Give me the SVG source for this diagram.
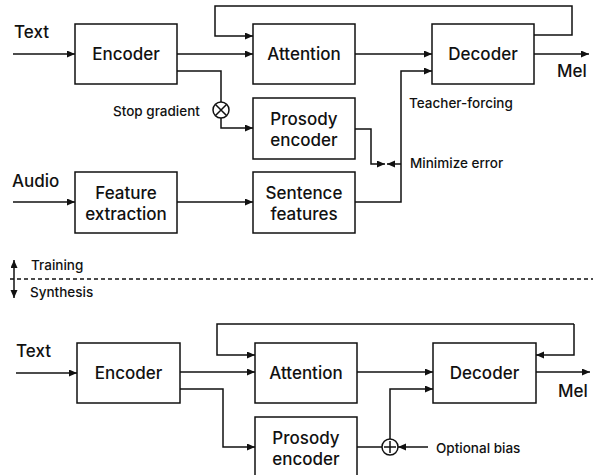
<svg xmlns="http://www.w3.org/2000/svg" width="593" height="475" viewBox="0 0 593 475">
  <style>
    .box { fill: #ffffff; stroke: #111111; stroke-width: 1.5; }
    .lbl { font-family: Inter, "Liberation Sans", Arial, sans-serif; font-weight: 500; font-size: 17px; fill: #111111; text-anchor: middle; }
    .io { font-family: Inter, "Liberation Sans", Arial, sans-serif; font-weight: 500; font-size: 17px; fill: #111111; }
    .sm { font-family: Inter, "Liberation Sans", Arial, sans-serif; font-weight: 500; font-size: 13.5px; fill: #111111; }
    .ln { fill: none; stroke: #111111; stroke-width: 1.5; }
    .arr { fill: none; stroke: #111111; stroke-width: 1.5; marker-end: url(#ah); }
    .dash { fill: none; stroke: #111111; stroke-width: 1.3; stroke-dasharray: 4 3; }
  </style>
  <defs>
    <marker id="ah" markerUnits="userSpaceOnUse" markerWidth="9" markerHeight="8" refX="8" refY="3.5" orient="auto">
      <path d="M0,0 L8,3.5 L0,7 z" fill="#111111"/>
    </marker>
  </defs>
  <rect width="593" height="475" fill="#ffffff"/>

  <g id="connectors">
    <!-- Training section -->
    <path class="arr" d="M13,54 H75"/>
    <path class="arr" d="M177,54 H253"/>
    <path class="ln" d="M177,71 H221 V102"/>
    <path class="arr" d="M221,118 V128 H253"/>
    <path class="arr" d="M534,35 H572 V6 H215 V36 H253"/>
    <path class="arr" d="M355,54 H432"/>
    <path class="arr" d="M534,54 H589"/>
    <path class="arr" d="M355,129 H371 V164 H385"/>
    <path class="arr" d="M355,202 H401 V71 H432"/>
    <path class="arr" d="M401,164 H387"/>
    <path class="arr" d="M13,202 H75"/>
    <path class="arr" d="M177,202 H253"/>
    <!-- divider -->
    <path class="arr" d="M14,279 V260"/>
    <path class="arr" d="M14,279 V298"/>
    <path class="dash" d="M10,279 H593"/>
    <!-- Synthesis section -->
    <path class="arr" d="M16,373 H77"/>
    <path class="arr" d="M180,372 H255"/>
    <path class="arr" d="M180,389 H223 V447 H255"/>
    <path class="arr" d="M574,324 H217 V355 H255"/>
    <path class="arr" d="M574,324 V355 H536"/>
    <path class="arr" d="M357,372 H433"/>
    <path class="arr" d="M536,372 H590"/>
    <path class="ln" d="M357,447 H382"/>
    <path class="arr" d="M390,439 V389 H433"/>
    <path class="arr" d="M428,447 H398"/>
  </g>

  <g id="stop-gradient">
    <circle cx="221" cy="110" r="8" fill="#ffffff" stroke="#111111" stroke-width="1.5"/>
    <path class="ln" d="M215.5,104.5 L226.5,115.5 M226.5,104.5 L215.5,115.5"/>
    <text class="sm" x="113" y="115.5">Stop gradient</text>
  </g>
  <g id="sum">
    <circle cx="390" cy="447" r="8" fill="#ffffff" stroke="#111111" stroke-width="1.5"/>
    <path class="ln" d="M384,447 H396 M390,441 V453"/>
  </g>

  <g id="labels">
    <text class="io" x="14" y="38">Text</text>
    <text class="io" x="12" y="187">Audio</text>
    <text class="io" x="557" y="77">Mel</text>
    <text class="sm" x="409" y="108">Teacher-forcing</text>
    <text class="sm" x="410" y="168">Minimize error</text>
    <text class="sm" x="31" y="270">Training</text>
    <text class="sm" x="30" y="297">Synthesis</text>
    <text class="io" x="16" y="357">Text</text>
    <text class="io" x="558" y="397">Mel</text>
    <text class="sm" x="436" y="453">Optional bias</text>
  </g>

  <g id="encoder-train">
    <rect class="box" x="75" y="24" width="102" height="60"/>
    <text class="lbl" x="126" y="60">Encoder</text>
  </g>
  <g id="attention-train">
    <rect class="box" x="253" y="24" width="102" height="60"/>
    <text class="lbl" x="304" y="60">Attention</text>
  </g>
  <g id="decoder-train">
    <rect class="box" x="432" y="24" width="102" height="60"/>
    <text class="lbl" x="483" y="60">Decoder</text>
  </g>
  <g id="prosody-encoder-train">
    <rect class="box" x="253" y="98" width="102" height="61"/>
    <text class="lbl" x="304" y="124.5">Prosody</text>
    <text class="lbl" x="304" y="145.5">encoder</text>
  </g>
  <g id="feature-extraction">
    <rect class="box" x="75" y="172" width="102" height="61"/>
    <text class="lbl" x="126" y="198.5">Feature</text>
    <text class="lbl" x="126" y="219.5">extraction</text>
  </g>
  <g id="sentence-features">
    <rect class="box" x="253" y="172" width="102" height="61"/>
    <text class="lbl" x="304" y="198.5">Sentence</text>
    <text class="lbl" x="304" y="219.5">features</text>
  </g>

  <g id="encoder-synth">
    <rect class="box" x="77" y="343" width="103" height="60"/>
    <text class="lbl" x="128.5" y="379">Encoder</text>
  </g>
  <g id="attention-synth">
    <rect class="box" x="255" y="343" width="102" height="60"/>
    <text class="lbl" x="306" y="379">Attention</text>
  </g>
  <g id="decoder-synth">
    <rect class="box" x="433" y="343" width="103" height="60"/>
    <text class="lbl" x="484.5" y="379">Decoder</text>
  </g>
  <g id="prosody-encoder-synth">
    <rect class="box" x="255" y="417" width="102" height="62"/>
    <text class="lbl" x="306" y="443.5">Prosody</text>
    <text class="lbl" x="306" y="464.5">encoder</text>
  </g>
</svg>
